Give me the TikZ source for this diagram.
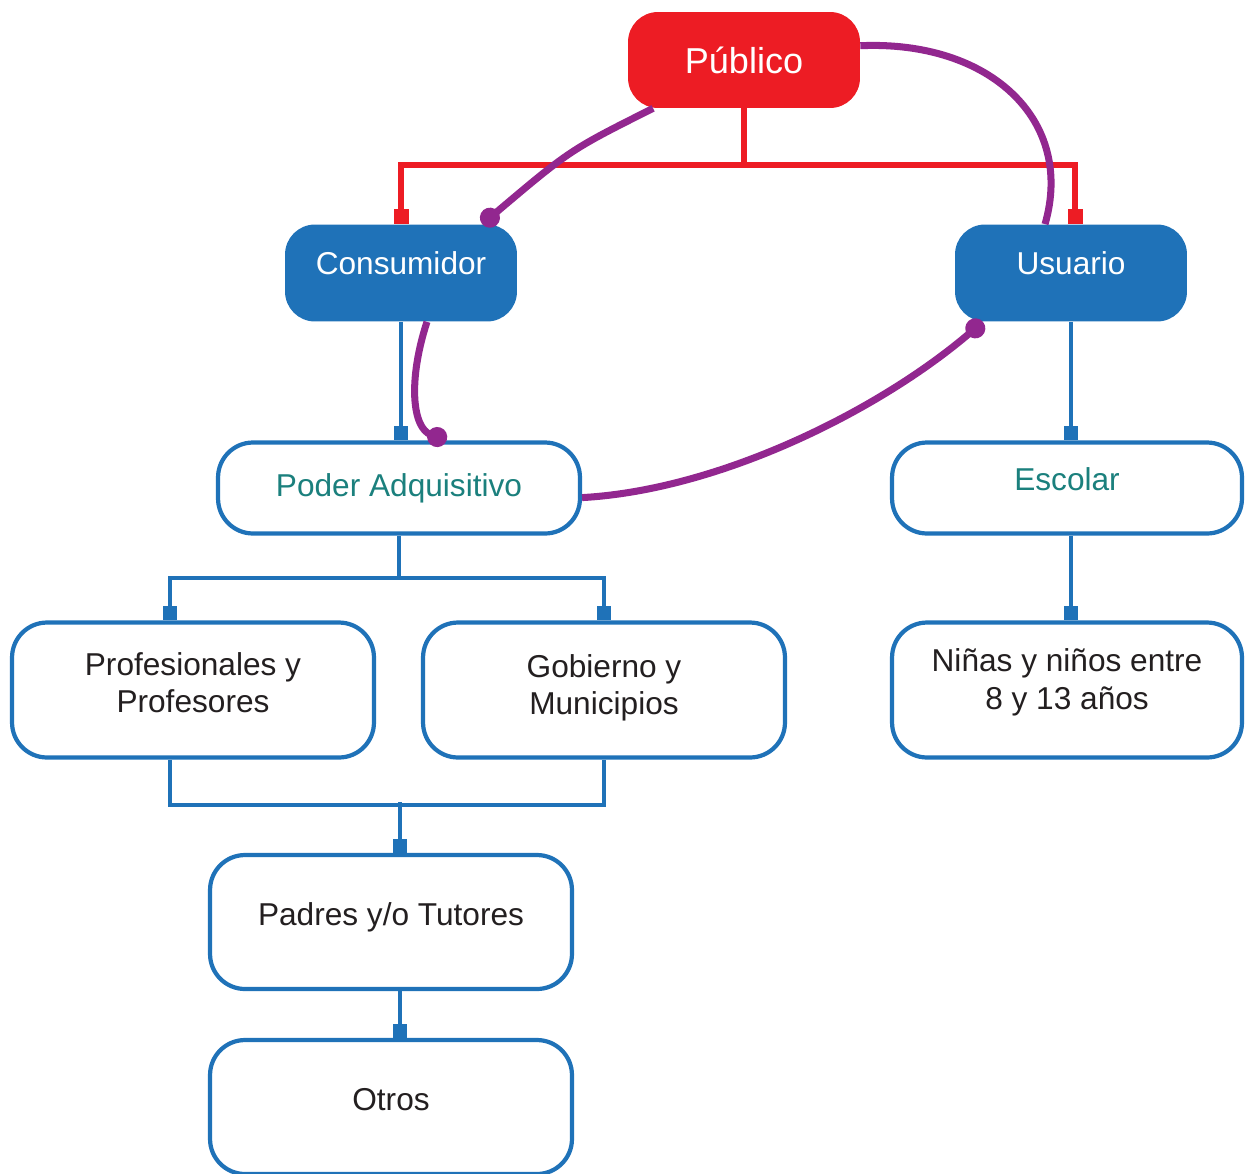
\documentclass[tikz,border=0pt]{standalone}
\usepackage{fontspec}
\setmainfont{Liberation Sans}
\usetikzlibrary{arrows.meta,positioning,calc}
\definecolor{pubred}{HTML}{ED1C24}
\definecolor{boxblue}{HTML}{1F72B8}
\definecolor{linkpurple}{HTML}{92278F}
\definecolor{tealtext}{HTML}{1B807D}
\definecolor{bodytext}{HTML}{231F20}

\begin{document}
\begin{tikzpicture}[
  x=0.02cm, y=-0.02cm,
  filled/.style={rounded corners=0.6cm, minimum width=4.64cm,
                 minimum height=1.94cm, text=white,
                 font=\fontsize{18}{21}\selectfont},
  outlined/.style={draw=boxblue, line width=2.4pt, fill=white,
                   rounded corners=0.7cm, minimum width=7.24cm,
                   align=center, text=bodytext,
                   font=\fontsize{18}{21.5}\selectfont},
  lift/.style={text depth=#1},
  rline/.style={pubred, line width=3pt},
  rsq/.style={rline, -{Square[length=0.3cm, width=0.3cm]}},
  bline/.style={boxblue, line width=2.3pt},
  bsq/.style={bline, -{Square[length=0.28cm, width=0.28cm]}},
  link/.style={linkpurple, line width=4pt},
  linkdot/.style={link, -{Circle[length=0.4cm]}}
]
  \useasboundingbox (0,0) rectangle (1246,1173);

  % Top level
  \node[filled, fill=pubred, minimum height=1.92cm,
        font=\fontsize{20.5}{24}\selectfont] (pub) at (744,60) {Público};
  \node[filled, fill=boxblue, lift=0.4cm] (cons) at (401,273) {Consumidor};
  \node[filled, fill=boxblue, lift=0.4cm] (usu) at (1071,273) {Usuario};

  % Second level
  \node[outlined, minimum height=1.82cm, text=tealtext] (poder) at (399,488) {Poder Adquisitivo};
  \node[outlined, minimum height=1.82cm, minimum width=7cm, text=tealtext, lift=0.34cm] (esc) at (1067,488) {Escolar};

  % Leaves
  \node[outlined, minimum height=2.7cm, lift=0.3cm] (prof) at (193,690) {Profesionales y\\Profesores};
  \node[outlined, minimum height=2.7cm, lift=0.22cm] (gob) at (604,690) {Gobierno y\\Municipios};
  \node[outlined, minimum height=2.7cm, minimum width=7cm, lift=0.45cm] (ninos) at (1067,690) {Niñas y niños entre\\8 y 13 años};
  \node[outlined, minimum height=2.68cm, lift=0.33cm] (padres) at (391,922) {Padres y/o Tutores};
  \node[outlined, minimum height=2.68cm, lift=0.29cm] (otros) at (391,1107) {Otros};

  % Red split from Publico
  \coordinate (rsplit) at (744,165);
  \draw[rline] (pub.south) -- (rsplit);
  \draw[rsq] (rsplit) -| (cons.north);
  \draw[rsq] (rsplit) -| ([xshift=0.08cm]usu.north);

  % Blue tree
  \draw[bsq] (cons.south) -- (cons.south |- poder.north);
  \draw[bsq] (usu.south) -- (usu.south |- esc.north);
  \draw[bsq] (esc.south -| usu.south) -- (ninos.north -| usu.south);

  \coordinate (split) at (399,578);
  \draw[bline] (poder.south) -- (split);
  \draw[bsq] (split) -| ([xshift=-0.46cm]prof.north);
  \draw[bsq] (split) -| (gob.north);

  \coordinate (merge) at (400,802);
  \draw[bline] ([xshift=-0.46cm]prof.south) -- ++(0,45) -| (gob.south);
  \draw[bsq] (merge) -- (merge |- padres.north);
  \draw[bsq] (padres.south -| merge) -- (otros.north -| merge);

  % Purple links
  \draw[linkdot] (pub.208) .. controls (570,150) .. (cons.31);
  \draw[link] (pub.7) .. controls (990,40) and (1075,120) .. (usu.118);
  \draw[linkdot] (cons.-62) .. controls (408,380) and (412,428) .. (poder.45);
  \draw[linkdot] (poder.-3) .. controls (720,490) and (880,410) .. (usu.209);
\end{tikzpicture}
\end{document}
